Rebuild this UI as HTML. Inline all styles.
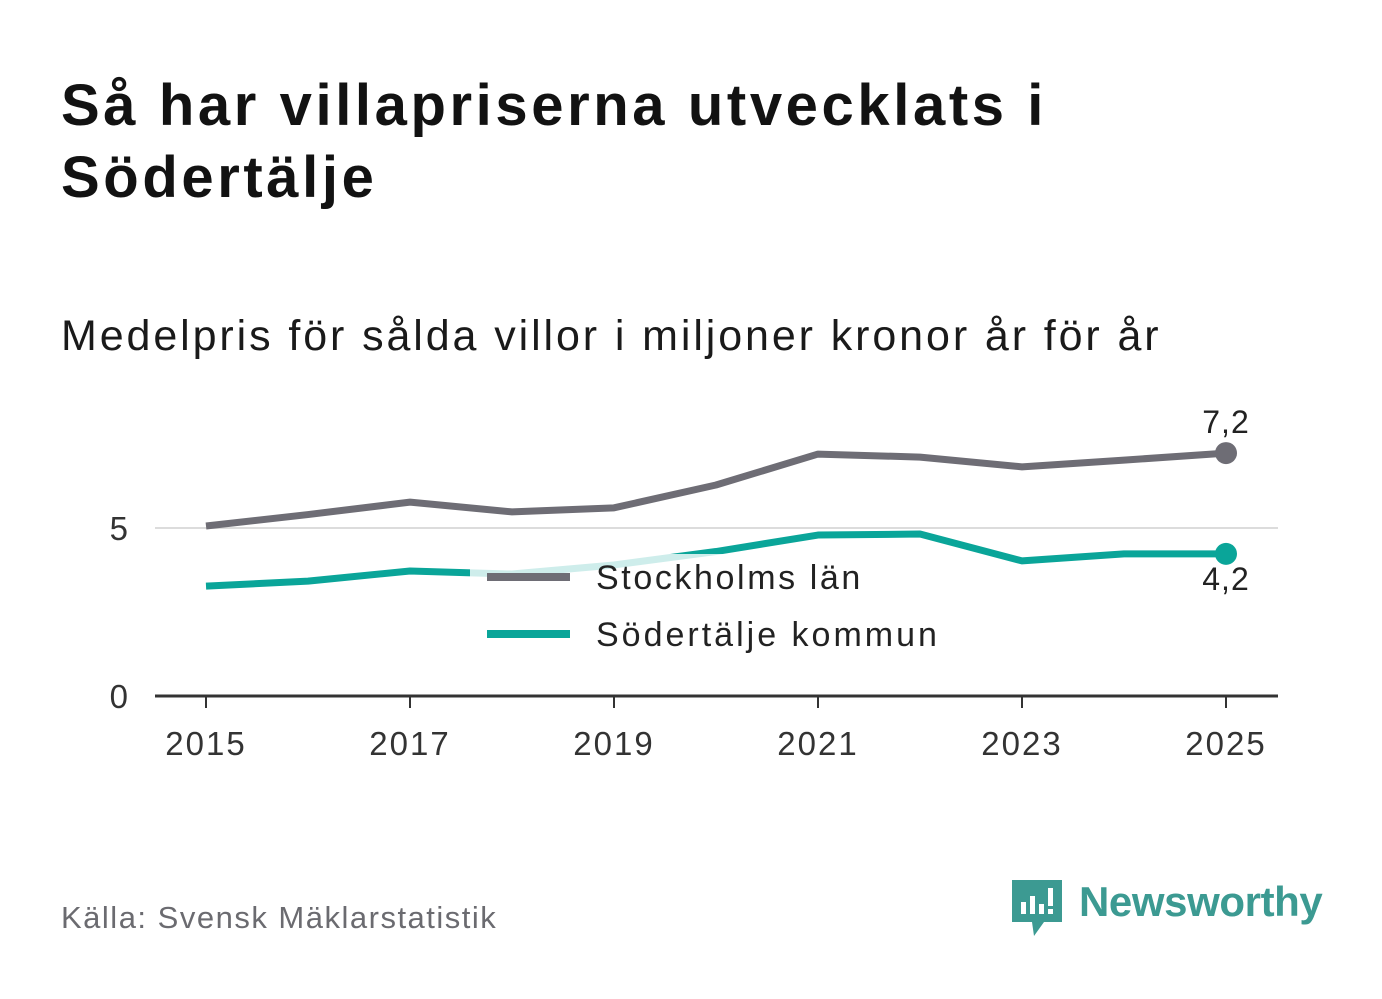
<!DOCTYPE html>
<html><head><meta charset="utf-8">
<style>
body{margin:0;background:#fff;font-family:"Liberation Sans",sans-serif;}
#wrap{position:relative;width:1382px;height:999px;overflow:hidden;}
h1{position:absolute;left:61px;top:70px;margin:0;font-size:58px;line-height:72px;font-weight:bold;color:#121212;letter-spacing:3.6px;}
.sub{position:absolute;left:61px;top:312px;font-size:43px;color:#1a1a1a;letter-spacing:2.9px;}
.src{position:absolute;left:61px;top:900px;font-size:31px;color:#6b6b70;letter-spacing:1.5px;}
.logo{position:absolute;left:1012px;top:878px;}
.logotext{position:absolute;left:1079px;top:878px;font-size:42px;font-weight:bold;color:#3c9a92;letter-spacing:-0.4px;}
</style></head><body>
<div id="wrap">
<h1>Så har villapriserna utvecklats i<br>Södertälje</h1>
<div class="sub">Medelpris för sålda villor i miljoner kronor år för år</div>
<svg id="chart" width="1382" height="999" style="position:absolute;left:0;top:0"></svg>
<div class="src">Källa: Svensk Mäklarstatistik</div>
<svg class="logo" width="52" height="62">
<path d="M0 2 H50 V44 H32 L22 58 L20 44 H0 Z" fill="#3c9a92"/>
<rect x="9" y="24" width="5" height="12" fill="#fff"/><rect x="18" y="18" width="5" height="18" fill="#fff"/><rect x="27" y="26" width="5" height="10" fill="#fff"/><rect x="36" y="10" width="5" height="18" fill="#fff"/><rect x="36" y="31" width="5" height="5" fill="#fff"/>
</svg>
<div class="logotext">Newsworthy</div>
</div>
<script>
const years=[2015,2016,2017,2018,2019,2020,2021,2022,2023,2024,2025];
const stockholm=[5.06,5.4,5.77,5.48,5.6,6.28,7.2,7.11,6.82,7.02,7.23];
const sodertalje=[3.27,3.42,3.72,3.63,3.9,4.3,4.79,4.82,4.02,4.23,4.23];
const yTicks=[0,5];
const xTicks=[2015,2017,2019,2021,2023,2025];
const labels=["7,2","4,2"];
const NS="http://www.w3.org/2000/svg";
const svg=document.getElementById('chart');
const x=v=>206+(v-2015)*102;
const y=v=>696-v*33.6;
function mk(t,a){const e=document.createElementNS(NS,t);for(const k in a)e.setAttribute(k,a[k]);svg.appendChild(e);return e;}
yTicks.forEach(t=>{
  if(t>0){const g=mk('line',{x1:155,x2:1278,y1:y(t),y2:y(t),stroke:'#dcdcdc','stroke-width':2});
  
  }
  const l=mk('text',{x:128,y:y(t)+12,'font-size':33,fill:'#333','text-anchor':'end','font-family':'Liberation Sans'});l.textContent=t;
  
  
});
const ax=mk('line',{x1:155,x2:1278,y1:y(0),y2:y(0),stroke:'#333','stroke-width':3});


xTicks.forEach(t=>{
  const tk=mk('line',{x1:x(t),x2:x(t),y1:y(0),y2:y(0)+12,stroke:'#333','stroke-width':2});
  
  
  const l=mk('text',{x:x(t),y:755,'font-size':33,'letter-spacing':2,fill:'#333','text-anchor':'middle','font-family':'Liberation Sans'});l.textContent=t;
  
  
});
function series(vals,color,name){
  const p=mk('polyline',{points:vals.map((v,i)=>x(years[i])+','+y(v)).join(' '),fill:'none',stroke:color,'stroke-width':7,'stroke-linejoin':'round'});
  
  
  const n=vals.length-1;
  const c=mk('circle',{cx:x(years[n]),cy:y(vals[n]),r:11,fill:color});
  
  
}
series(stockholm,'#6e6d75','stockholm');
series(sodertalje,'#0aa599','sodertalje');
const l1=mk('text',{x:1226,y:y(stockholm[10])-20,'font-size':32,'letter-spacing':1,fill:'#222','text-anchor':'middle','font-family':'Liberation Sans'});l1.textContent=labels[0];


const l2=mk('text',{x:1226,y:y(sodertalje[10])+36,'font-size':32,'letter-spacing':1,fill:'#222','text-anchor':'middle','font-family':'Liberation Sans'});l2.textContent=labels[1];


const lb=mk('rect',{x:470,y:554,width:490,height:106,fill:'rgba(255,255,255,0.8)'});


[['Stockholms län','#6e6d75',577,2.6],['Södertälje kommun','#0aa599',634,3]].forEach(([t,c,yy,ls])=>{
  const s=mk('line',{x1:487,x2:570,y1:yy,y2:yy,stroke:c,'stroke-width':8});
  
  
  const tx=mk('text',{x:596,y:yy+12,'font-size':34,'letter-spacing':ls,fill:'#222','font-family':'Liberation Sans'});tx.textContent=t;
  
  
});
</script>
</body></html>
